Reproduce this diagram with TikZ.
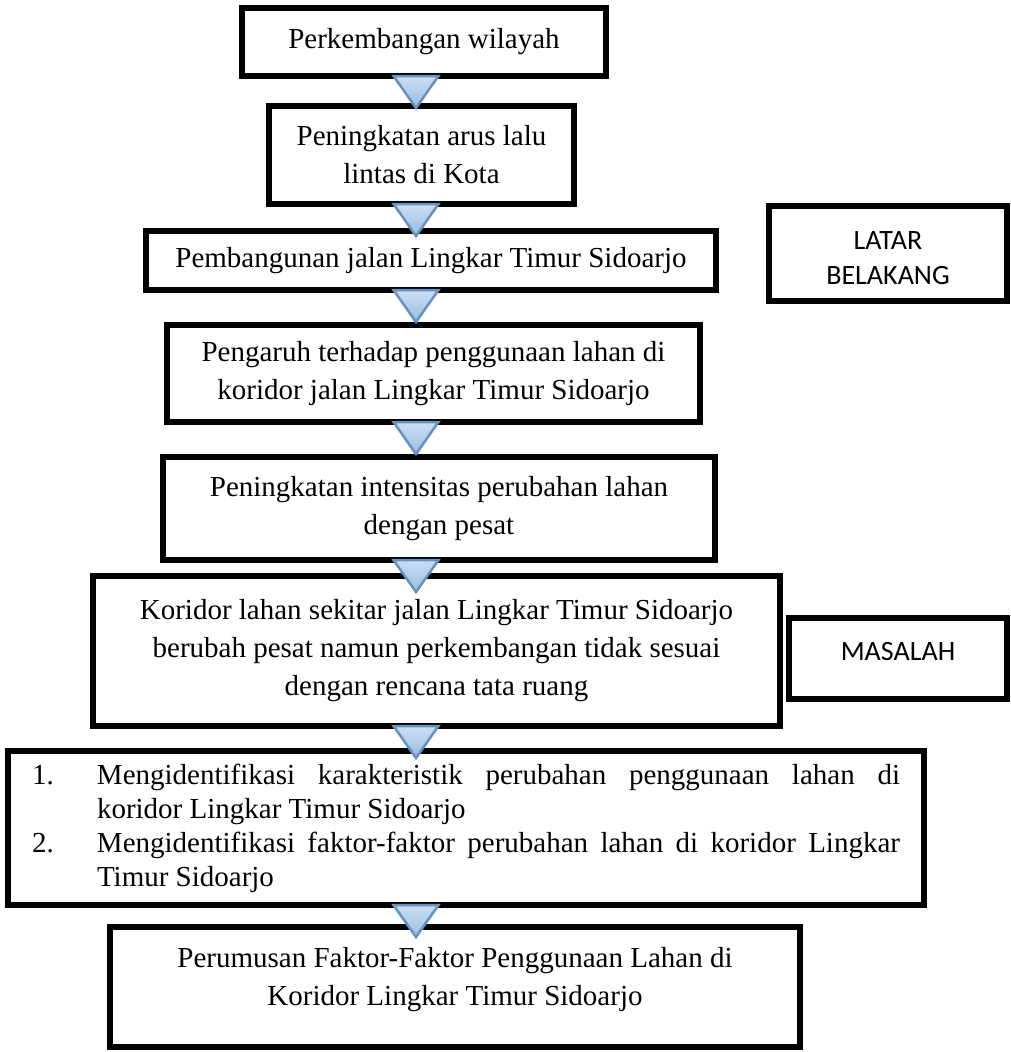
\documentclass[tikz,border=0pt]{standalone}
\usepackage{fontspec}
\setmainfont{Liberation Serif}
\newfontfamily\sidefont{Carlito}
\definecolor{triTop}{RGB}{204,223,243}
\definecolor{triBot}{RGB}{152,188,226}
\definecolor{triLine}{RGB}{104,146,190}
\tikzset{x=1pt, y=-1pt,
flowbox/.style={ % Sets the properties for each step box
draw, line width=6pt, fill=white,
inner sep=0pt, outer sep=0pt,
align=center,
font=\fontsize{29}{38}\selectfont},
sidebox/.style={ % Boxes with the section names on the right
flowbox,
font=\sidefont\fontsize{28}{35}\selectfont},
listbox/.style={ % Box with the numbered list
flowbox, align=justify, text width=868pt,
font=\fontsize{29}{34}\selectfont},
tri/.style={ % Blue triangle between two boxes
draw=triLine, line width=2.5pt,
top color=triTop, bottom color=triBot}}

\begin{document}
\begin{tikzpicture}
\fill[white] (0,0) rectangle (1011,1052);
\useasboundingbox (0,0) rectangle (1011,1052);
\coordinate (ax) at (416,0);
\node[flowbox, minimum width=364pt, minimum height=68pt] (b1) at (424,42) {Perkembangan wilayah};
\node[flowbox, minimum width=305pt, minimum height=98pt] (b2) at (421.5,155) {Peningkatan arus lalu\\ lintas di Kota};
\node[flowbox, minimum width=570pt, minimum height=59pt] (b3) at (431,260.5) {Pembangunan jalan Lingkar Timur Sidoarjo};
\node[flowbox, minimum width=533pt, minimum height=97pt] (b4) at (433.5,373.5) {Pengaruh terhadap penggunaan lahan di\\ koridor jalan Lingkar Timur Sidoarjo};
\node[flowbox, minimum width=552pt, minimum height=103pt] (b5) at (439,508.5) {Peningkatan intensitas perubahan lahan\\ dengan pesat};
\node[flowbox, minimum width=687pt, minimum height=150pt] (b6) at (436.5,651) {Koridor lahan sekitar jalan Lingkar Timur Sidoarjo\\ berubah pesat namun perkembangan tidak sesuai\\ dengan rencana tata ruang};
\node[listbox, minimum width=916pt, minimum height=154pt] (b7) at (466,828) {\parindent=0pt \hyphenpenalty=10000 \exhyphenpenalty=10000
\hangindent=65pt \makebox[65pt][l]{1.}Mengidentifikasi karakteristik perubahan penggunaan lahan di\linebreak koridor Lingkar Timur Sidoarjo\par
\hangindent=65pt \makebox[65pt][l]{2.}Mengidentifikasi faktor-faktor perubahan lahan di koridor Lingkar Timur Sidoarjo\par};
\node[flowbox, minimum width=690pt, minimum height=120pt, text depth=22pt] (b8) at (455,987) {Perumusan Faktor-Faktor Penggunaan Lahan di\\ Koridor Lingkar Timur Sidoarjo};
\node[sidebox, minimum width=238pt, minimum height=95pt, text height=63pt] (latar) at (888,253.5) {LATAR\\ BELAKANG};
\node[sidebox, minimum width=218pt, minimum height=81pt, text depth=15pt] (masalah) at (898,658.5) {MASALAH};
% triangles from each box down to the next one
\foreach \a in {b1,b2,b3,b4,b5,b6,b7}
  \draw[tri] (\a.south -| ax) ++(-22.5,0) -- ++(45,0) -- ++(-22.5,32) -- cycle;
\end{tikzpicture}
\end{document}
